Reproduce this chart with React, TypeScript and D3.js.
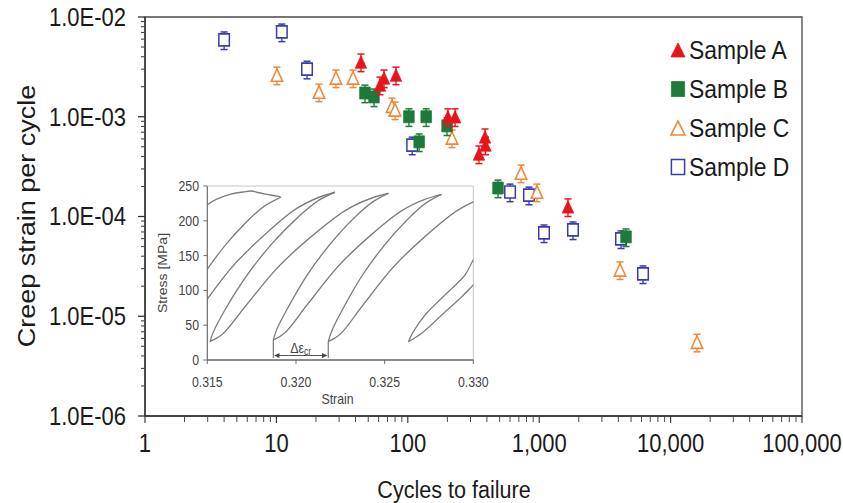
import React from 'react';
import * as d3 from 'd3';

// The whole picture is slightly squeezed horizontally
const SX = 0.88;
const vx = (px: number) => px / SX;

// ---------- main chart ----------
const cycleTicks = [1, 10, 100, 1000, 10000, 100000];
const cycleTickLabels = ['1', '10', '100', '1,000', '10,000', '100,000'];
const strainTicks = [1e-6, 1e-5, 1e-4, 1e-3, 1e-2];
const strainTickLabels = ['1.0E-06', '1.0E-05', '1.0E-04', '1.0E-03', '1.0E-02'];
const xTitle = 'Cycles to failure';
const yTitle = 'Creep strain per cycle';

const sampleNames = ['Sample A', 'Sample B', 'Sample C', 'Sample D'];
const sampleColors = ['#e8141c', '#1d7a3a', '#f0883a', '#3b3bb0'];

const sampleACycles = [44, 61.4, 65.9, 81.3, 202, 229, 348, 387, 390, 1656];
const sampleAStrain = [3.54e-3, 2.08e-3, 2.45e-3, 2.62e-3, 1.0e-3, 1.0e-3, 4.24e-4, 6.28e-4, 5.21e-4, 1.25e-4];
const sampleBCycles = [47.2, 55.3, 102, 138, 122, 199, 486, 4580];
const sampleBStrain = [1.73e-3, 1.58e-3, 1.0e-3, 1.0e-3, 5.6e-4, 8.1e-4, 1.93e-4, 6.25e-5];
const sampleCCycles = [10.1, 21.1, 28.4, 38.3, 75.8, 80, 217, 727, 962, 4120, 15880];
const sampleCStrain = [2.62e-3, 1.77e-3, 2.45e-3, 2.45e-3, 1.28e-3, 1.17e-3, 6.13e-4, 2.73e-4, 1.76e-4, 2.92e-5, 5.5e-6];
const sampleDCycles = [4.0, 11.0, 17.1, 108, 600, 836, 1088, 1808, 4195, 6166];
const sampleDStrain = [5.9e-3, 7.08e-3, 3.0e-3, 5.2e-4, 1.76e-4, 1.64e-4, 6.85e-5, 7.34e-5, 5.97e-5, 2.66e-5];
const scatterFraction = 0.2;

// ---------- inset (hysteresis loops) ----------
const insetStrainTicks = [0.315, 0.32, 0.325, 0.33];
const insetStrainLabels = ['0.315', '0.320', '0.325', '0.330'];
const insetStressTicks = [0, 50, 100, 150, 200, 250];
const insetXTitle = 'Strain';
const insetYTitle = 'Stress [MPa]';

const branch1: [number, number][] = [[0.3145, 214], [0.315, 223], [0.31553, 231], [0.31628, 238], [0.31703, 241.4], [0.3175, 242.8], [0.31778, 241], [0.31835, 238], [0.31882, 236], [0.31914, 234], [0.31902, 232.3]];
const branch2: [number, number][] = [[0.31902, 232.3], [0.31822, 221.0], [0.31717, 197.4], [0.31594, 162.5], [0.31471, 119.4], [0.3136, 70.1], [0.31304, 41.4], [0.31286, 27]];
const branch3: [number, number][] = [[0.31286, 27], [0.31351, 37.7], [0.31473, 78.4], [0.31641, 134], [0.31828, 181.1], [0.31996, 216.4], [0.32127, 233.5], [0.3222, 241]];
const branch4: [number, number][] = [[0.3222, 241], [0.32128, 229.2], [0.32009, 204.5], [0.31868, 168.0], [0.31727, 122.9], [0.31598, 71.4], [0.31536, 41.3], [0.31515, 26.3]];
const branch5: [number, number][] = [[0.31515, 26.3], [0.31585, 37.0], [0.31716, 77.5], [0.31897, 132.9], [0.32098, 179.8], [0.3228, 215.0], [0.3242, 232.0], [0.32521, 239.5]];
const branch6: [number, number][] = [[0.32521, 239.5], [0.32437, 227.9], [0.32326, 203.7], [0.32197, 167.8], [0.32067, 123.6], [0.3195, 73.0], [0.31891, 43.5], [0.31872, 28.7]];
const branch7: [number, number][] = [[0.31872, 28.7], [0.31938, 39.2], [0.32062, 78.9], [0.32233, 133.4], [0.32422, 179.4], [0.32593, 213.9], [0.32726, 230.7], [0.32821, 238.0]];
const branch8: [number, number][] = [[0.32821, 238.0], [0.32738, 226.4], [0.32629, 202.0], [0.32502, 166.0], [0.32374, 121.6], [0.32259, 70.8], [0.32201, 41.1], [0.32182, 26.3]];
const branch9: [number, number][] = [[0.32182, 26.3], [0.32249, 37.0], [0.32374, 77.6], [0.32548, 133.2], [0.3274, 180.2], [0.32913, 215.4], [0.33048, 232.5], [0.33144, 240]];
const branch10: [number, number][] = [[0.3328, 240], [0.3318, 215], [0.3308, 175], [0.33, 144], [0.32953, 122.1], [0.3284, 93.4], [0.32728, 64.7], [0.32662, 40.7], [0.32634, 26.3]];
const branch11: [number, number][] = [[0.32634, 26.3], [0.32709, 38.4], [0.32822, 64.7], [0.32935, 90.9], [0.33, 107.8], [0.3308, 128]];
const loopBranches = [branch1, branch2, branch3, branch4, branch5, branch6, branch7, branch8, branch9, branch10, branch11];

const ratchetFrom = 0.31872;
const ratchetTo = 0.32182;
const ratchetTipStress = [28.7, 26.3];
const ratchetArrowStress = 6.5;
const ratchetLineBottom = 3;

const FONT = "'Liberation Sans', Arial, Helvetica, sans-serif";

function triPath(w: number, h: number) {
  return `M0,${-h / 2}L${w / 2},${h / 2}L${-w / 2},${h / 2}Z`;
}
function sqPath(w: number, h: number) {
  return `M${-w / 2},${-h / 2}H${w / 2}V${h / 2}H${-w / 2}Z`;
}

export default function App() {
  const x = d3.scaleLog().domain([1, 1e5]).range([vx(145), vx(802)]);
  const y = d3.scaleLog().domain([1e-6, 1e-2]).range([416, 17]);
  const ix = d3.scaleLinear().domain([0.315, 0.33]).range([vx(207.3), vx(473.3)]);
  const iy = d3.scaleLinear().domain([0, 250]).range([360, 186]);

  const minorCycles: number[] = [];
  for (let d = 0; d < 5; d++) for (let k = 2; k <= 9; k++) minorCycles.push(k * Math.pow(10, d));
  const minorStrain: number[] = [];
  for (let d = -6; d < -2; d++) for (let k = 2; k <= 9; k++) minorStrain.push(k * Math.pow(10, d));

  const series = [
    { name: sampleNames[3], cycles: sampleDCycles, strain: sampleDStrain, color: sampleColors[3], shape: 'square', filled: false },
    { name: sampleNames[2], cycles: sampleCCycles, strain: sampleCStrain, color: sampleColors[2], shape: 'triangle', filled: false },
    { name: sampleNames[1], cycles: sampleBCycles, strain: sampleBStrain, color: sampleColors[1], shape: 'square', filled: true },
    { name: sampleNames[0], cycles: sampleACycles, strain: sampleAStrain, color: sampleColors[0], shape: 'triangle', filled: true },
  ];
  const legendOrder = [3, 2, 1, 0];

  const line = d3
    .line<[number, number]>()
    .x((d) => ix(d[0]))
    .y((d) => iy(d[1]))
    .curve(d3.curveCatmullRom.alpha(0.5));

  const plotL = x(1), plotR = x(1e5), plotT = y(1e-2), plotB = y(1e-6);
  const iL = ix(0.315), iR = ix(0.33), iT = iy(250), iB = iy(0);

  const markerPath = (shape: string, big: boolean) =>
    shape === 'triangle' ? (big ? triPath(16, 14) : triPath(13, 12.5)) : big ? sqPath(15, 15) : sqPath(12, 12);

  const arrowY = iy(ratchetArrowStress);
  const ax0 = ix(ratchetFrom), ax1 = ix(ratchetTo);

  return (
    <svg width={843} height={503} style={{ position: 'absolute', left: 0, top: 0, background: '#fff' }} fontFamily={FONT}>
      <defs>
        <clipPath id="insetClip">
          <rect x={iL} y={iT - 4} width={iR - iL} height={iB - iT + 4} />
        </clipPath>
      </defs>
      <g transform={`scale(${SX},1)`}>
        {/* plot frame */}
        <rect x={plotL} y={plotT} width={plotR - plotL} height={plotB - plotT} fill="#fff" stroke="#555" strokeWidth={1.6} />
        <line x1={plotL} x2={plotL} y1={plotT} y2={plotB} stroke="#333" strokeWidth={1.6} />
        <line x1={plotL} x2={plotR} y1={plotB} y2={plotB} stroke="#333" strokeWidth={1.6} />

        {/* y ticks */}
        {strainTicks.map((t, i) => (
          <g key={'yt' + i}>
            <line x1={plotL - vx(7)} x2={plotL} y1={y(t)} y2={y(t)} stroke="#333" strokeWidth={1.3} />
            <text x={plotL - vx(19)} y={y(t)} dy="0.36em" textAnchor="end" fontSize={25} fill="#1a1a1a">
              {strainTickLabels[i]}
            </text>
          </g>
        ))}
        {minorStrain.map((t, i) => (
          <line key={'ym' + i} x1={plotL - vx(4)} x2={plotL} y1={y(t)} y2={y(t)} stroke="#444" strokeWidth={1.1} />
        ))}
        {/* x ticks */}
        {cycleTicks.map((t, i) => (
          <g key={'xt' + i}>
            <line x1={x(t)} x2={x(t)} y1={plotB} y2={plotB + 7} stroke="#333" strokeWidth={1.3} />
            <text x={x(t)} y={443} dy="0.36em" textAnchor="middle" fontSize={25} fill="#1a1a1a">
              {cycleTickLabels[i]}
            </text>
          </g>
        ))}
        {minorCycles.map((t, i) => (
          <line key={'xm' + i} x1={x(t)} x2={x(t)} y1={plotB} y2={plotB + 6} stroke="#444" strokeWidth={1.1} />
        ))}

        {/* axis titles */}
        <text x={vx(454)} y={489} dy="0.36em" textAnchor="middle" fontSize={24.5} fill="#1a1a1a">
          {xTitle}
        </text>
        <text
          transform={`translate(${vx(26)},${216}) rotate(-90)`}
          dy="0.36em"
          textAnchor="middle"
          fontSize={27}
          fill="#1a1a1a"
        >
          {yTitle}
        </text>

        {/* inset */}
        <g>
          <line x1={iL} x2={iR} y1={iT} y2={iT} stroke="#c8c8c8" strokeWidth={1.2} />
          <line x1={iR} x2={iR} y1={iT} y2={iB} stroke="#c8c8c8" strokeWidth={1.2} />
          <g clipPath="url(#insetClip)">
            {loopBranches.map((b, i) => (
              <path key={'lb' + i} d={line(b) || ''} fill="none" stroke="#7d7d7d" strokeWidth={1.4} />
            ))}
          </g>
          <line x1={iL} x2={iL} y1={iT} y2={iB} stroke="#666" strokeWidth={1.3} />
          <line x1={iL} x2={iR} y1={iB} y2={iB} stroke="#666" strokeWidth={1.3} />
          {insetStressTicks.map((t, i) => (
            <g key={'iyt' + i}>
              <line x1={iL - vx(4)} x2={iL} y1={iy(t)} y2={iy(t)} stroke="#666" strokeWidth={1} />
              <text x={vx(199)} y={iy(t)} dy="0.36em" textAnchor="end" fontSize={14} fill="#444">
                {t}
              </text>
            </g>
          ))}
          {insetStrainTicks.map((t, i) => (
            <g key={'ixt' + i}>
              <line x1={ix(t)} x2={ix(t)} y1={iB} y2={iB + 4} stroke="#666" strokeWidth={1} />
              <text x={ix(t)} y={382} dy="0.36em" textAnchor="middle" fontSize={14} fill="#444">
                {insetStrainLabels[i]}
              </text>
            </g>
          ))}
          <text x={vx(337.5)} y={399} dy="0.36em" textAnchor="middle" fontSize={14} fill="#444">
            {insetXTitle}
          </text>
          <text transform={`translate(${vx(163)},${273}) rotate(-90)`} dy="0.36em" textAnchor="middle" fontSize={14} fill="#444">
            {insetYTitle}
          </text>
          {/* ratchet strain annotation */}
          <line x1={ax0} x2={ax0} y1={iy(ratchetTipStress[0])} y2={iy(ratchetLineBottom)} stroke="#666" strokeWidth={1.2} />
          <line x1={ax1} x2={ax1} y1={iy(ratchetTipStress[1])} y2={iy(ratchetLineBottom)} stroke="#666" strokeWidth={1.2} />
          <line x1={ax0 + 2} x2={ax1 - 2} y1={arrowY} y2={arrowY} stroke="#555" strokeWidth={1.2} />
          <path d={`M${ax0 + 1},${arrowY}l6,-2.5v5Z`} fill="#444" />
          <path d={`M${ax1 - 1},${arrowY}l-6,-2.5v5Z`} fill="#444" />
          <text x={(ax0 + ax1) / 2} y={353} textAnchor="middle" fontSize={14} fill="#444">
            <tspan>Δε</tspan>
            <tspan fontSize={10} dy={2}>cr</tspan>
          </text>
        </g>

        {/* data */}
        {series.map((s, si) => (
          <g key={'s' + si}>
            {s.cycles.map((c, i) => {
              const cx = x(c);
              const e = s.strain[i];
              const yTop = y(e * (1 + scatterFraction));
              const yBot = y(e * (1 - scatterFraction));
              return (
                <g key={i}>
                  <line x1={cx} x2={cx} y1={yTop} y2={yBot} stroke={s.color} strokeWidth={1.5} />
                  <line x1={cx - 4} x2={cx + 4} y1={yTop} y2={yTop} stroke={s.color} strokeWidth={1.5} />
                  <line x1={cx - 4} x2={cx + 4} y1={yBot} y2={yBot} stroke={s.color} strokeWidth={1.5} />
                  <path
                    transform={`translate(${cx},${y(e)})`}
                    d={markerPath(s.shape, false)}
                    fill={s.filled ? s.color : '#fff'}
                    stroke={s.color}
                    strokeWidth={s.filled ? 0.8 : 1.7}
                  />
                </g>
              );
            })}
          </g>
        ))}

        {/* legend */}
        {legendOrder.map((si, k) => {
          const s = series[si];
          const ly = 50 + k * 39;
          return (
            <g key={'lg' + k}>
              <path
                transform={`translate(${vx(678)},${ly})`}
                d={markerPath(s.shape, true)}
                fill={s.filled ? s.color : '#fff'}
                stroke={s.color}
                strokeWidth={s.filled ? 0.8 : 1.7}
              />
              <text x={vx(689)} y={ly} dy="0.36em" fontSize={26} fill="#1a1a1a">
                {s.name}
              </text>
            </g>
          );
        })}
      </g>
    </svg>
  );
}
